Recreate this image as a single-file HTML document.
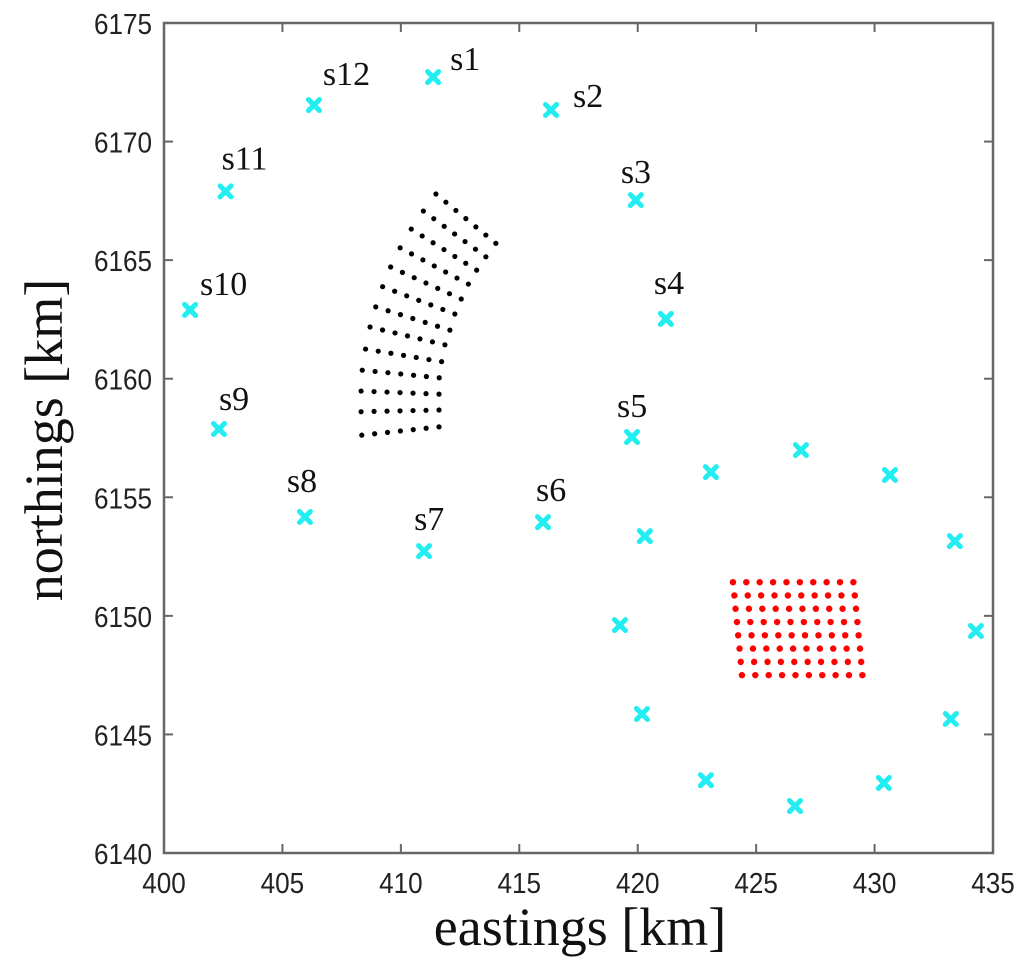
<!DOCTYPE html>
<html><head><meta charset="utf-8"><style>
html,body{margin:0;padding:0;background:#fff;}
svg{display:block;}
.tk{font-family:"Liberation Sans",sans-serif;font-size:29px;fill:#222;}
.lb{font-family:"Liberation Serif",serif;font-size:34px;fill:#111;}
.at{font-family:"Liberation Serif",serif;font-size:54px;fill:#111;}
</style></head><body>
<svg id="chart" width="1024" height="964" xmlns="http://www.w3.org/2000/svg"></svg>
<script>
const xTicks=[400,405,410,415,420,425,430,435];
const yTicks=[6140,6145,6150,6155,6160,6165,6170,6175];
const stationNames=["s1","s2","s3","s4","s5","s6","s7","s8","s9","s10","s11","s12"];
const stationX=[411.36,416.34,419.92,421.19,419.76,416.0,410.98,405.95,402.32,401.1,402.6,406.33];
const stationY=[6172.72,6171.33,6167.53,6162.52,6157.54,6153.95,6152.73,6154.17,6157.88,6162.9,6167.9,6171.54];
const ringX=[423.09,426.89,430.65,433.39,434.28,433.22,430.39,426.64,422.88,420.18,419.25,420.3];
const ringY=[6156.06,6156.99,6155.94,6153.15,6149.36,6145.65,6142.95,6141.98,6143.07,6145.86,6149.61,6153.36];
const arcLeftX=[411.48,410.95,410.44,409.97,409.57,409.23,408.94,408.70,408.51,408.37,408.32,408.32,408.35];
const arcLeftY=[6167.79,6167.07,6166.31,6165.52,6164.71,6163.88,6163.03,6162.18,6161.25,6160.36,6159.48,6158.61,6157.62];
const arcRightX=[414.01,413.59,413.2,412.85,412.55,412.28,412.07,411.86,411.72,411.62,411.61,411.61,411.61];
const arcRightY=[6165.71,6165.14,6164.58,6163.99,6163.36,6162.73,6162.05,6161.43,6160.72,6160.04,6159.35,6158.68,6157.97];
const arcCols=7;
const redRowY=[6151.42,6150.86,6150.30,6149.74,6149.18,6148.62,6148.06,6147.50];
const redRowStartX=[424.02,424.08,424.13,424.19,424.24,424.30,424.35,424.40];
const redColStep=[0,0.565,1.13,1.695,2.26,2.825,3.39,3.955,4.52,5.085];

const L=164,R=993,T=23,B=853;
const sx=v=>L+(v-400)/35*(R-L);
const sy=v=>B-(v-6140)/35*(B-T);
const NS="http://www.w3.org/2000/svg";
const svg=document.getElementById('chart');
function mk(tag,attrs,parent){const e=document.createElementNS(NS,tag);for(const k in attrs)e.setAttribute(k,attrs[k]);(parent||svg).appendChild(e);return e;}

const axes=mk('rect',{x:L,y:T,width:R-L,height:B-T,fill:'none',stroke:'#666',"stroke-width":2.5});



xTicks.forEach(v=>{
  const x=sx(v);
  const t1=mk('line',{x1:x,y1:B,x2:x,y2:B-9,stroke:'#666',"stroke-width":2});
  
  
  const t2=mk('line',{x1:x,y1:T,x2:x,y2:T+9,stroke:'#666',"stroke-width":2});
  
  
  const tx=mk('text',{x:x,y:B+40,"text-anchor":"middle",class:'tk',transform:`translate(${x*0.1},0) scale(0.9,1)`});
  tx.textContent=v;
  
  
});
yTicks.forEach(v=>{
  const y=sy(v);
  const t1=mk('line',{x1:L,y1:y,x2:L+9,y2:y,stroke:'#666',"stroke-width":2});
  
  
  const t2=mk('line',{x1:R,y1:y,x2:R-9,y2:y,stroke:'#666',"stroke-width":2});
  
  
  const xx=L-12;
  const tx=mk('text',{x:xx,y:y+11,"text-anchor":"end",class:'tk',transform:`translate(${xx*0.1},0) scale(0.9,1)`});
  tx.textContent=v;
  
  
});

const xt=mk('text',{x:580,y:945,"text-anchor":"middle",class:'at'});
xt.textContent='eastings [km]';


const yt=mk('text',{x:0,y:0,"text-anchor":"middle",class:'at',transform:'translate(62,440) rotate(-90)'});
yt.textContent='northings [km]';



for(let r=0;r<arcLeftX.length;r++){
  for(let c=0;c<arcCols;c++){
    const f=c/(arcCols-1);
    const d=mk('circle',{cx:sx(arcLeftX[r]+(arcRightX[r]-arcLeftX[r])*f),cy:sy(arcLeftY[r]+(arcRightY[r]-arcLeftY[r])*f),r:2.6,fill:'#000'});
    
    
  }
}
redRowY.forEach((yv,r)=>{
  redColStep.forEach(dx=>{
    const d=mk('circle',{cx:sx(redRowStartX[r]+dx),cy:sy(yv),r:3.2,fill:'#f00'});
    
    
  });
});

function cross(x,y,name){
  const g=mk('g',{stroke:'#22eef2',"stroke-width":5,"stroke-linecap":"round"});
  
  
  mk('line',{x1:x-5.5,y1:y-5.5,x2:x+5.5,y2:y+5.5},g);
  mk('line',{x1:x-5.5,y1:y+5.5,x2:x+5.5,y2:y-5.5},g);
}
const labOff=[[17,-7],[22,-3],[-15,-17],[-12,-25],[-15,-20],[-7,-21],[-10,-21],[-18,-25],[0,-19],[10,-15],[-4,-22],[9,-20]];
stationX.forEach((v,i)=>{
  const x=sx(v),y=sy(stationY[i]);
  cross(x,y,'station-marker-'+stationNames[i]);
  const t=mk('text',{x:x+labOff[i][0],y:y+labOff[i][1],class:'lb'});
  t.textContent=stationNames[i];
  
  
});
ringX.forEach((v,i)=>{cross(sx(v),sy(ringY[i]),'ring-marker');});
</script>
</body></html>
